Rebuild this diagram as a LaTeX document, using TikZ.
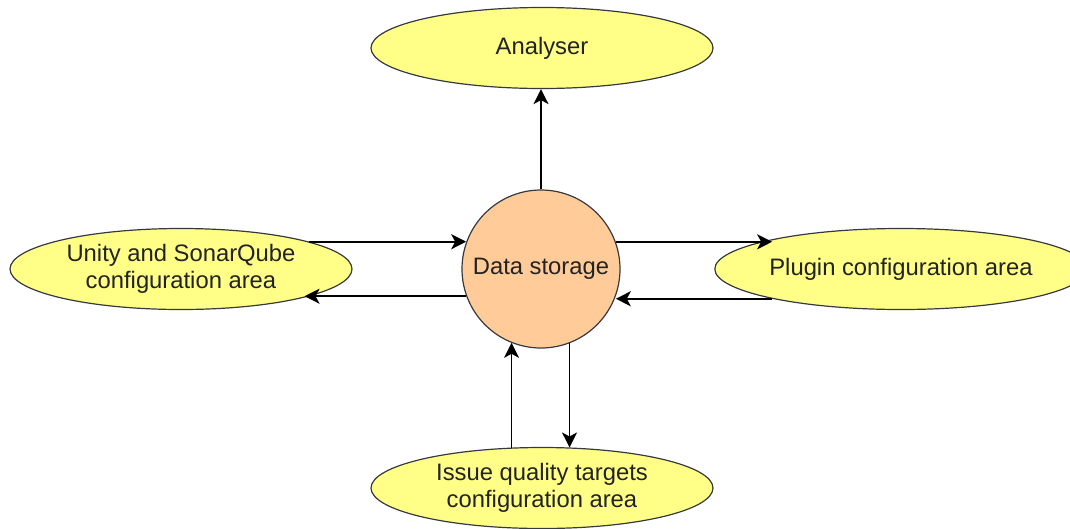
\documentclass[tikz,border=0pt]{standalone}
\usepackage{fontspec}
\setmainfont{Liberation Sans}
\usetikzlibrary{shapes.geometric,arrows.meta}
\definecolor{ellfill}{HTML}{FFFF88}
\definecolor{circfill}{HTML}{FFCC99}
\definecolor{edgecol}{HTML}{36393D}
\definecolor{txtcol}{HTML}{222222}
\begin{document}
\begin{tikzpicture}[x=1pt,y=-1pt,
  ell/.style={ellipse, draw=edgecol, fill=ellfill, line width=1.2pt, inner sep=0pt,
    minimum width=342pt, minimum height=81pt, align=center, text=txtcol,
    font=\fontsize{23.8}{27.5}\selectfont},
  circ/.style={circle, draw=edgecol, fill=circfill, line width=1.2pt, inner sep=0pt,
    minimum size=158pt, text=txtcol, font=\fontsize{23.8}{27.5}\selectfont},
  arr/.style={line width=1.8pt, draw=black, -{Stealth[length=15pt,width=15pt,inset=4pt]}}]
\useasboundingbox (0,0) rectangle (1070,528);
\node[circ] (data) at (541,269) {\raisebox{-3pt}{Data storage}};
\node[ell] (top) at (542,48) {Analyser};
\node[ell] (left) at (181,269) {Unity and SonarQube\\configuration area};
\node[ell, minimum width=338pt] (right) at (901,269) {Plugin configuration area};
\node[ell] (bottom) at (542,488) {Issue quality targets\\configuration area};
% top
\draw[arr] (data.north) -- (data.north |- top.south);
% left
\draw[arr] (left.12) -- (data.160 |- left.12);
\draw[arr] (data.200) -- (left.-13 |- data.200);
% right
\draw[arr] (data.20) -- (right.167 |- data.20);
\draw[arr] (right.193) -- (data.340 |- right.193);
% bottom
\draw[arr] (bottom.127) -- (bottom.127 |- data.248);
\draw[arr] (data.291) -- (data.291 |- bottom.55);
\end{tikzpicture}
\end{document}
